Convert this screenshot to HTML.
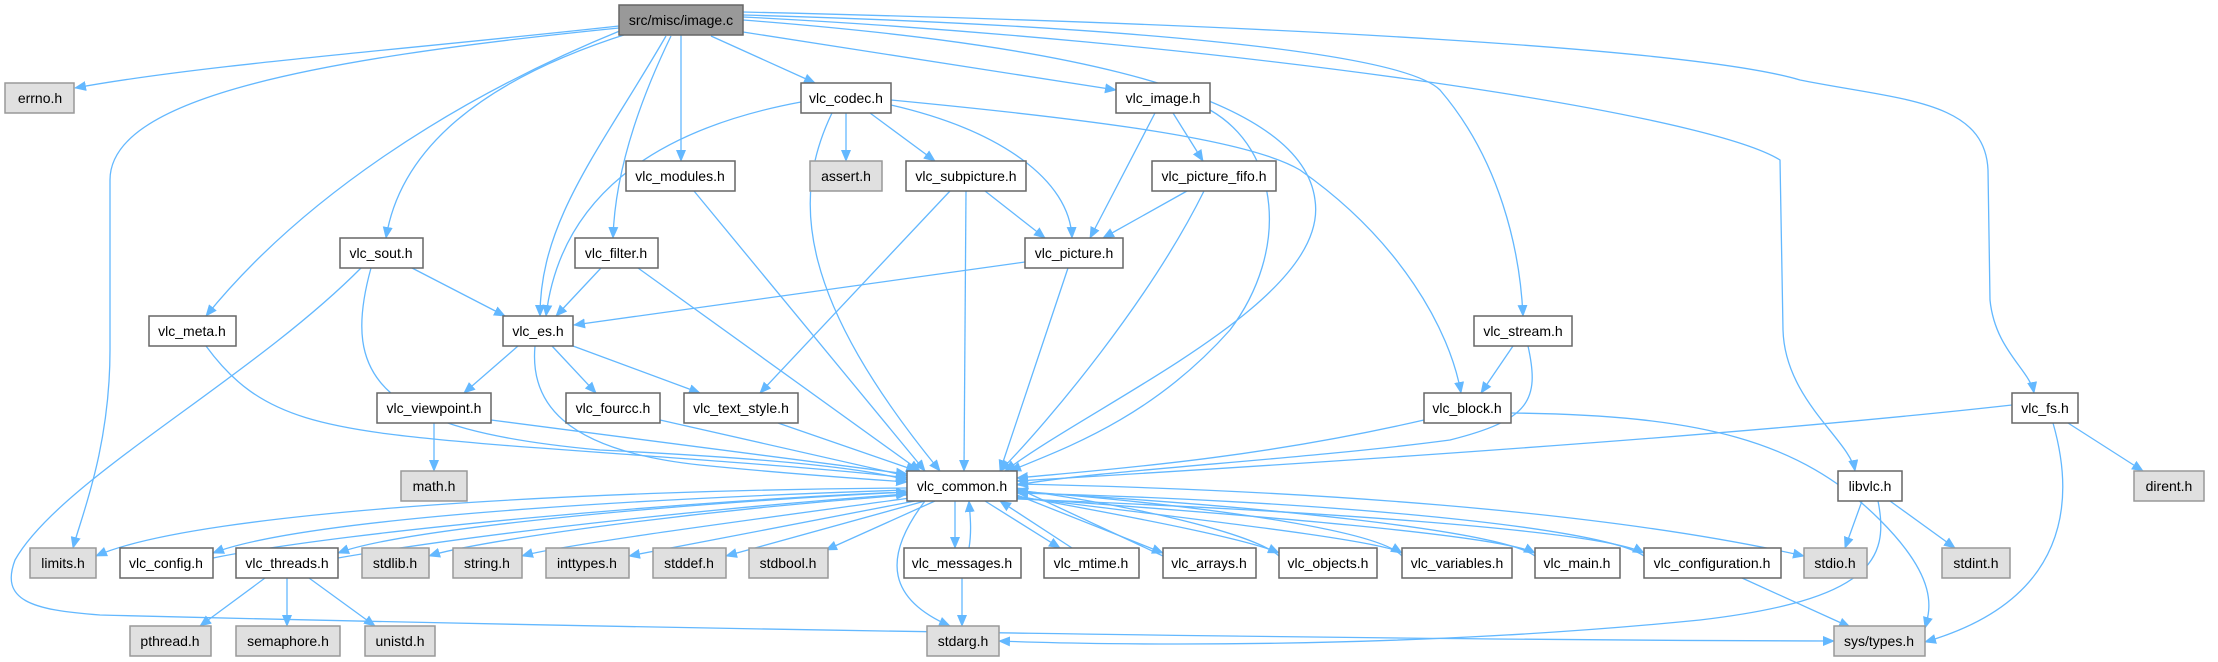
<!DOCTYPE html>
<html><head><meta charset="utf-8"><style>
html,body{margin:0;padding:0;background:#fff;}
svg{display:block;}
text{font-family:"Liberation Sans",sans-serif;font-size:14px;text-anchor:middle;dominant-baseline:central;fill:#000;}
.e{fill:none;stroke:#63b8ff;stroke-width:1.3;marker-end:url(#a);}
.w{fill:#fff;stroke:#666;stroke-width:1.5;}
.g{fill:#e0e0e0;stroke:#999;stroke-width:1.5;}
.r{fill:#999;stroke:#666;stroke-width:1.5;}
</style></head><body>
<svg width="2218" height="662" viewBox="0 0 2218 662" xmlns="http://www.w3.org/2000/svg">
<defs><marker id="a" markerWidth="12" markerHeight="10" refX="11" refY="5" orient="auto" markerUnits="userSpaceOnUse"><path d="M0,0 L12,5 L0,10 z" fill="#63b8ff"/></marker></defs>
<g>
<path class="e" d="M619,26 C400,50 200,65 75,88"/>
<path class="e" d="M619,28 C300,60 110,100 110,180 L110,350 C110,450 80,520 73,548"/>
<path class="e" d="M622,30 C450,100 300,200 206,316"/>
<path class="e" d="M630,33 C480,80 400,150 386,238"/>
<path class="e" d="M666,36 C600,150 540,220 540,316"/>
<path class="e" d="M671,36 C640,100 615,170 613,238"/>
<path class="e" d="M681,35 L681,161"/>
<path class="e" d="M711,36 L815,83"/>
<path class="e" d="M743,32 L1116,90"/>
<path class="e" d="M743,20 C1000,40 1300,80 1315,200 C1330,300 1100,400 1005,471"/>
<path class="e" d="M743,15 C1100,25 1400,50 1440,90 C1500,160 1520,250 1523,316"/>
<path class="e" d="M743,17 C1200,40 1700,110 1780,160 L1783,330 C1785,400 1850,440 1855,471"/>
<path class="e" d="M743,12 C1300,25 1700,50 1800,80 C1900,100 1985,100 1988,170 L1990,300 C1995,350 2030,370 2034,393"/>
<path class="e" d="M801,102 C650,130 560,200 546,316"/>
<path class="e" d="M832,113 C790,200 800,300 940,471"/>
<path class="e" d="M846,113 L846,161"/>
<path class="e" d="M870,113 L935,161"/>
<path class="e" d="M891,105 C1000,130 1070,180 1072,238"/>
<path class="e" d="M891,100 C1100,120 1250,140 1300,170 C1400,240 1450,330 1461,393"/>
<path class="e" d="M1155,113 L1090,238"/>
<path class="e" d="M1173,113 L1203,161"/>
<path class="e" d="M1210,110 C1280,150 1290,250 1230,330 C1150,420 1060,450 1010,471"/>
<path class="e" d="M1187,191 L1103,238"/>
<path class="e" d="M1204,191 C1150,300 1050,420 1000,471"/>
<path class="e" d="M985,191 L1045,238"/>
<path class="e" d="M950,191 L760,393"/>
<path class="e" d="M966,191 L964,471"/>
<path class="e" d="M694,191 L925,471"/>
<path class="e" d="M412,268 L505,316"/>
<path class="e" d="M371,268 C340,380 380,430 600,450 C800,460 870,470 907,480"/>
<path class="e" d="M361,268 C250,380 60,480 15,560 C0,600 30,610 100,615 C700,630 1400,640 1834,641"/>
<path class="e" d="M601,268 L556,316"/>
<path class="e" d="M638,268 L920,471"/>
<path class="e" d="M1025,262 L574,325"/>
<path class="e" d="M1068,268 L1000,471"/>
<path class="e" d="M206,346 C260,420 320,430 500,445 C700,460 850,470 907,478"/>
<path class="e" d="M518,346 L464,393"/>
<path class="e" d="M552,346 L596,393"/>
<path class="e" d="M573,346 L700,393"/>
<path class="e" d="M535,346 C530,400 560,450 700,465 C800,475 880,480 907,482"/>
<path class="e" d="M1513,346 L1481,393"/>
<path class="e" d="M1528,346 C1540,400 1530,420 1450,440 C1300,460 1100,470 1017,485"/>
<path class="e" d="M434,423 L434,471"/>
<path class="e" d="M491,420 L907,474"/>
<path class="e" d="M660,420 L907,476"/>
<path class="e" d="M778,423 L917,471"/>
<path class="e" d="M1424,420 C1250,460 1100,470 1017,478"/>
<path class="e" d="M1511,413 C1700,415 1800,440 1880,520 C1940,580 1930,610 1925,628"/>
<path class="e" d="M2012,405 C1700,440 1200,470 1017,481"/>
<path class="e" d="M2068,423 L2143,471"/>
<path class="e" d="M2053,423 C2075,500 2070,600 1925,642"/>
<path class="e" d="M1862,501 L1845,548"/>
<path class="e" d="M1890,501 L1955,548"/>
<path class="e" d="M1878,501 C1890,560 1870,600 1700,620 C1400,650 1100,645 999,641"/>
<path class="e" d="M907,488 C600,490 200,510 96,556"/>
<path class="e" d="M907,490 C600,500 300,520 213,553"/>
<path class="e" d="M213,558 C350,530 700,500 907,492"/>
<path class="e" d="M907,492 C650,505 400,530 338,553"/>
<path class="e" d="M338,558 C500,530 750,505 907,494"/>
<path class="e" d="M907,495 C700,510 480,540 429,556"/>
<path class="e" d="M910,498 C750,520 560,545 522,556"/>
<path class="e" d="M915,501 L629,556"/>
<path class="e" d="M925,501 L726,556"/>
<path class="e" d="M935,501 L826,550"/>
<path class="e" d="M925,501 C880,560 890,600 950,626"/>
<path class="e" d="M955,501 L955,548"/>
<path class="e" d="M969,548 C972,530 970,515 969,501"/>
<path class="e" d="M985,501 L1060,548"/>
<path class="e" d="M1072,548 L1000,501"/>
<path class="e" d="M1017,495 L1163,553"/>
<path class="e" d="M1163,556 L1017,488"/>
<path class="e" d="M1017,496 C1150,520 1250,540 1279,553"/>
<path class="e" d="M1279,556 C1250,530 1100,500 1017,490"/>
<path class="e" d="M1017,497 C1200,520 1380,540 1402,553"/>
<path class="e" d="M1402,556 C1380,530 1200,505 1017,491"/>
<path class="e" d="M1017,498 C1250,515 1500,535 1535,553"/>
<path class="e" d="M1535,556 C1500,530 1250,505 1017,492"/>
<path class="e" d="M1017,499 C1300,510 1600,530 1644,553"/>
<path class="e" d="M1644,556 C1600,525 1300,500 1017,493"/>
<path class="e" d="M1017,484 C1300,490 1600,510 1804,556"/>
<path class="e" d="M1742,578 L1850,627"/>
<path class="e" d="M962,578 L962,626"/>
<path class="e" d="M265,578 L200,626"/>
<path class="e" d="M287,578 L287,626"/>
<path class="e" d="M309,578 L375,626"/>
</g>
<g>
<rect class="r" x="619" y="5" width="124" height="30"/><text x="681" y="20">src/misc/image.c</text>
<rect class="g" x="5" y="83" width="69" height="30"/><text x="40" y="98">errno.h</text>
<rect class="w" x="801" y="83" width="90" height="30"/><text x="846" y="98">vlc_codec.h</text>
<rect class="w" x="1116" y="83" width="94" height="30"/><text x="1163" y="98">vlc_image.h</text>
<rect class="w" x="626" y="161" width="109" height="30"/><text x="680" y="176">vlc_modules.h</text>
<rect class="g" x="810" y="161" width="72" height="30"/><text x="846" y="176">assert.h</text>
<rect class="w" x="906" y="161" width="120" height="30"/><text x="966" y="176">vlc_subpicture.h</text>
<rect class="w" x="1152" y="161" width="124" height="30"/><text x="1214" y="176">vlc_picture_fifo.h</text>
<rect class="w" x="340" y="238" width="83" height="30"/><text x="381" y="253">vlc_sout.h</text>
<rect class="w" x="575" y="238" width="83" height="30"/><text x="616" y="253">vlc_filter.h</text>
<rect class="w" x="1025" y="238" width="98" height="30"/><text x="1074" y="253">vlc_picture.h</text>
<rect class="w" x="149" y="316" width="87" height="30"/><text x="192" y="331">vlc_meta.h</text>
<rect class="w" x="503" y="316" width="70" height="30"/><text x="538" y="331">vlc_es.h</text>
<rect class="w" x="1474" y="316" width="98" height="30"/><text x="1523" y="331">vlc_stream.h</text>
<rect class="w" x="377" y="393" width="114" height="30"/><text x="434" y="408">vlc_viewpoint.h</text>
<rect class="w" x="566" y="393" width="94" height="30"/><text x="613" y="408">vlc_fourcc.h</text>
<rect class="w" x="684" y="393" width="114" height="30"/><text x="741" y="408">vlc_text_style.h</text>
<rect class="w" x="1424" y="393" width="87" height="30"/><text x="1467" y="408">vlc_block.h</text>
<rect class="w" x="2012" y="393" width="66" height="30"/><text x="2045" y="408">vlc_fs.h</text>
<rect class="g" x="401" y="471" width="66" height="30"/><text x="434" y="486">math.h</text>
<rect class="w" x="907" y="471" width="110" height="30"/><text x="962" y="486">vlc_common.h</text>
<rect class="w" x="1838" y="471" width="64" height="30"/><text x="1870" y="486">libvlc.h</text>
<rect class="g" x="2134" y="471" width="70" height="30"/><text x="2169" y="486">dirent.h</text>
<rect class="g" x="30" y="548" width="66" height="30"/><text x="63" y="563">limits.h</text>
<rect class="w" x="120" y="548" width="93" height="30"/><text x="166" y="563">vlc_config.h</text>
<rect class="w" x="236" y="548" width="102" height="30"/><text x="287" y="563">vlc_threads.h</text>
<rect class="g" x="362" y="548" width="67" height="30"/><text x="395" y="563">stdlib.h</text>
<rect class="g" x="453" y="548" width="69" height="30"/><text x="487" y="563">string.h</text>
<rect class="g" x="546" y="548" width="83" height="30"/><text x="587" y="563">inttypes.h</text>
<rect class="g" x="653" y="548" width="73" height="30"/><text x="689" y="563">stddef.h</text>
<rect class="g" x="749" y="548" width="79" height="30"/><text x="788" y="563">stdbool.h</text>
<rect class="w" x="904" y="548" width="117" height="30"/><text x="962" y="563">vlc_messages.h</text>
<rect class="w" x="1044" y="548" width="95" height="30"/><text x="1091" y="563">vlc_mtime.h</text>
<rect class="w" x="1163" y="548" width="93" height="30"/><text x="1209" y="563">vlc_arrays.h</text>
<rect class="w" x="1279" y="548" width="98" height="30"/><text x="1328" y="563">vlc_objects.h</text>
<rect class="w" x="1402" y="548" width="110" height="30"/><text x="1457" y="563">vlc_variables.h</text>
<rect class="w" x="1535" y="548" width="85" height="30"/><text x="1577" y="563">vlc_main.h</text>
<rect class="w" x="1644" y="548" width="137" height="30"/><text x="1712" y="563">vlc_configuration.h</text>
<rect class="g" x="1804" y="548" width="63" height="30"/><text x="1835" y="563">stdio.h</text>
<rect class="g" x="1942" y="548" width="68" height="30"/><text x="1976" y="563">stdint.h</text>
<rect class="g" x="130" y="626" width="81" height="30"/><text x="170" y="641">pthread.h</text>
<rect class="g" x="236" y="626" width="104" height="30"/><text x="288" y="641">semaphore.h</text>
<rect class="g" x="365" y="626" width="70" height="30"/><text x="400" y="641">unistd.h</text>
<rect class="g" x="927" y="626" width="72" height="30"/><text x="963" y="641">stdarg.h</text>
<rect class="g" x="1834" y="626" width="91" height="30"/><text x="1879" y="641">sys/types.h</text>
</g>
</svg>
</body></html>
